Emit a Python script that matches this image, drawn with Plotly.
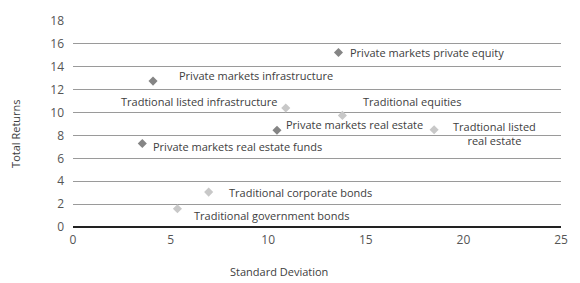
import plotly.graph_objects as go

# Risk / return by asset class
names = [
    "Private markets private equity",
    "Private markets infrastructure",
    "Tradtional listed infrastructure",
    "Traditional equities",
    "Private markets real estate",
    "Tradtional listed<br>real estate",
    "Private markets real estate funds",
    "Traditional corporate bonds",
    "Traditional government bonds",
]
std_dev = [13.6, 4.1, 10.9, 13.8, 10.45, 18.5, 3.55, 6.95, 5.35]
returns = [15.25, 12.75, 10.4, 9.75, 8.45, 8.5, 7.3, 3.05, 1.6]
is_private = [True, True, False, False, True, False, True, False, False]

# label placement: (xanchor, xshift, yshift)
label_pos = [
    ("left", 10, 0),
    ("left", 24, 6),
    ("right", -6, 6),
    ("center", 70, 14),
    ("left", 7, 6),
    ("center", 60, -4),
    ("left", 9, -3),
    ("left", 18, 0),
    ("left", 15, -7),
]

DARK = "#858585"
LIGHT = "#c8c8c8"
TEXT = "#404040"

fig = go.Figure()
for priv, color in [(True, DARK), (False, LIGHT)]:
    xs = [x for x, p in zip(std_dev, is_private) if p == priv]
    ys = [y for y, p in zip(returns, is_private) if p == priv]
    fig.add_trace(go.Scatter(
        x=xs, y=ys, mode="markers",
        marker=dict(symbol="diamond", size=7, color=color),
        showlegend=False, hoverinfo="skip",
    ))

for n, x, y, (anc, xs_, ys_) in zip(names, std_dev, returns, label_pos):
    fig.add_annotation(
        x=x, y=y, xref="x", yref="y", text=n, showarrow=False,
        xanchor=anc, yanchor="middle", xshift=xs_, yshift=ys_,
        font=dict(size=11, color=TEXT), align="center",
    )

fig.add_annotation(text="Standard Deviation", x=0.422, y=-0.217,
                   xref="paper", yref="paper", showarrow=False,
                   xanchor="center", yanchor="middle",
                   font=dict(size=11, color=TEXT))
fig.add_annotation(text="Total Returns", x=-0.118, y=0.454,
                   xref="paper", yref="paper", showarrow=False,
                   textangle=-90, xanchor="center", yanchor="middle",
                   font=dict(size=11, color=TEXT))

fig.update_xaxes(range=[0, 25], dtick=5, showgrid=False, zeroline=False,
                 showline=False, ticks="", ticklabelstandoff=4,
                 tickfont=dict(size=12, color="#555555"))
fig.update_yaxes(range=[0, 18], dtick=2, showgrid=True, gridcolor="#9a9a9a",
                 gridwidth=1, zeroline=True, zerolinecolor="#222222",
                 zerolinewidth=1.5, ticks="", ticklabelstandoff=8,
                 tickfont=dict(size=12, color="#555555"))

fig.update_layout(
    width=580, height=283,
    margin=dict(l=73, r=17, t=20, b=56),
    plot_bgcolor="white", paper_bgcolor="white",
    font=dict(family="Open Sans, sans-serif", color=TEXT),
)

fig.write_html("out.html")
